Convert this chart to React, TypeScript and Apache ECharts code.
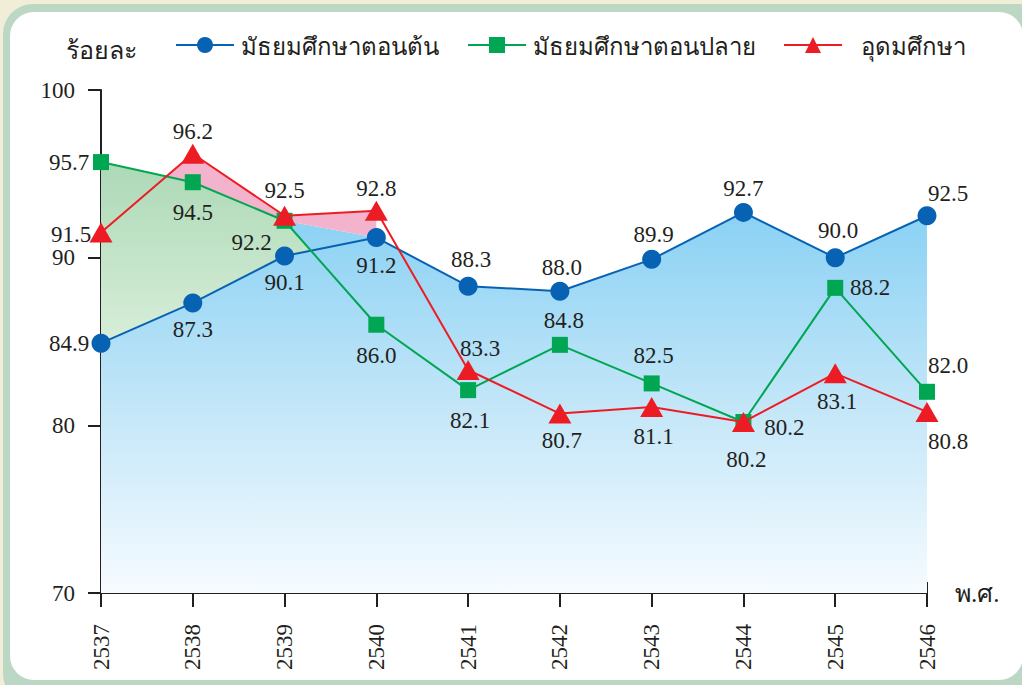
import React, { useEffect, useRef } from "react";
import * as echarts from "echarts";

// ---- data ----
const years = [2537, 2538, 2539, 2540, 2541, 2542, 2543, 2544, 2545, 2546];
const lowerSecondary = [84.9, 87.3, 90.1, 91.2, 88.3, 88.0, 89.9, 92.7, 90.0, 92.5];
const upperSecondary = [95.7, 94.5, 92.2, 86.0, 82.1, 84.8, 82.5, 80.2, 88.2, 82.0];
const higherEducation = [91.5, 96.2, 92.5, 92.8, 83.3, 80.7, 81.1, 80.2, 83.1, 80.8];
const seriesNames = ["มัธยมศึกษาตอนต้น", "มัธยมศึกษาตอนปลาย", "อุดมศึกษา"];
const yMin = 70;
const yMax = 100;
const yStep = 10;
const yAxisTitle = "ร้อยละ";
const xAxisTitle = "พ.ศ.";

// ---- label placement (pixel offsets from each marker) ----
const lowerOffsets = [[-32, 0], [0, 27], [0, 27], [0, 28], [3, -27], [2, -24], [2, -25], [0, -24], [3, -27], [21, -22]];
const upperOffsets = [[-32, 0], [0, 30], [-33, 22], [0, 31], [2, 30], [4, -24], [2, -28], [3, 38], [35, 0], [21, -26]];
const higherOffsets = [[-30, 2], [0, -22], [0, -25], [0, -22], [12, -22], [2, 27], [2, 30], [41, 6], [2, 28], [21, 30]];

const INK = "#231f20";
const BLUE = "#0862b3";
const GREEN = "#00a651";
const RED = "#ed1c24";
const SERIF = "Liberation Serif";
const SANS = "Noto Sans";

function crossing(a: number[], b: number[], i: number): [number, number] {
  const d1 = a[i] - b[i];
  const d2 = a[i + 1] - b[i + 1];
  const t = d1 / (d1 - d2);
  return [years[i] + t * (years[i + 1] - years[i]), a[i] + t * (a[i + 1] - a[i])];
}

function lineSeries(name: string, values: number[], offsets: number[][], color: string, symbol: string, symbolSize: any, z: number) {
  return {
    type: "line",
    name,
    z,
    symbol,
    symbolSize,
    lineStyle: { color, width: 2 },
    itemStyle: { color },
    data: values.map((v, i) => ({
      value: [years[i], v],
      label: { offset: offsets[i] },
    })),
    label: {
      show: true,
      position: "inside",
      formatter: (p: any) => Number(p.value[1]).toFixed(1),
      fontSize: 23,
      fontFamily: SERIF,
      color: INK,
      textBorderWidth: 0,
    },
  };
}

export default function App() {
  const ref = useRef<HTMLDivElement>(null);
  useEffect(() => {
    if (!ref.current) return;
    const chart = echarts.init(ref.current, null, { renderer: "svg" });

    const areaSeries = {
      type: "custom",
      z: 1,
      silent: true,
      data: [[years[0], yMin]],
      renderItem: (_params: any, api: any) => {
        const c = (x: number, y: number) => api.coord([x, y]);
        const bluePts: number[][] = [];
        for (let i = 0; i <= 2; i++) bluePts.push(c(years[i], lowerSecondary[i]));
        bluePts.push(c(years[2], upperSecondary[2]));
        for (let i = 3; i < years.length; i++) bluePts.push(c(years[i], lowerSecondary[i]));
        bluePts.push(c(years[years.length - 1], yMin));
        bluePts.push(c(years[0], yMin));
        const gx = crossing(upperSecondary, lowerSecondary, 2);
        const greenPts: number[][] = [];
        for (let i = 0; i <= 2; i++) greenPts.push(c(years[i], upperSecondary[i]));
        greenPts.push(c(gx[0], gx[1]));
        for (let i = 2; i >= 0; i--) greenPts.push(c(years[i], lowerSecondary[i]));
        const px = crossing(higherEducation, upperSecondary, 0);
        const pinkPts: number[][] = [c(px[0], px[1])];
        for (let i = 1; i <= 3; i++) pinkPts.push(c(years[i], higherEducation[i]));
        pinkPts.push(c(years[3], lowerSecondary[3]));
        pinkPts.push(c(years[2], upperSecondary[2]));
        pinkPts.push(c(years[1], upperSecondary[1]));
        return {
          type: "group",
          children: [
            {
              type: "polygon",
              shape: { points: bluePts },
              style: {
                fill: new echarts.graphic.LinearGradient(0, 0, 0, 1, [
                  { offset: 0, color: "#8ad1f4" },
                  { offset: 0.5, color: "#c2e6f8" },
                  { offset: 1, color: "#f6fbff" },
                ]),
              },
            },
            {
              type: "polygon",
              shape: { points: greenPts },
              style: {
                fill: new echarts.graphic.LinearGradient(0, 0, 0, 1, [
                  { offset: 0, color: "#acd9b6" },
                  { offset: 1, color: "#d8eed9" },
                ]),
              },
            },
            {
              type: "polygon",
              shape: { points: pinkPts },
              style: { fill: "#f4b3cd" },
            },
          ],
        };
      },
    };

    const legendBase = {
      top: 28,
      itemWidth: 58,
      itemHeight: 20,
      textStyle: { fontSize: 24, fontFamily: SANS, color: INK },
    };

    const option: any = {
      animation: false,
      textStyle: { fontFamily: SERIF },
      grid: { left: 101, right: 95, top: 90, bottom: 92, containLabel: false },
      legend: [
        { ...legendBase, left: 170, data: [seriesNames[0]], textStyle: { ...legendBase.textStyle, padding: [0, 0, 0, 2] } },
        { ...legendBase, left: 462, data: [seriesNames[1]], textStyle: { ...legendBase.textStyle, padding: [0, 0, 0, 2] } },
        { ...legendBase, left: 778, data: [seriesNames[2]], textStyle: { ...legendBase.textStyle, padding: [0, 0, 0, 14] } },
      ],
      xAxis: [
        {
          type: "value",
          min: years[0],
          max: years[years.length - 1],
          interval: 1,
          position: "bottom",
          axisLine: { show: true, lineStyle: { color: INK, width: 2 } },
          axisTick: { show: true, inside: true, length: 11, lineStyle: { color: INK, width: 2 } },
          axisLabel: {
            rotate: 90,
            margin: 31,
            fontSize: 23,
            fontFamily: SERIF,
            color: INK,
            formatter: (v: number) => String(v),
          },
          splitLine: { show: false },
          name: xAxisTitle,
          nameLocation: "end",
          nameGap: 28,
          nameTextStyle: { fontSize: 25, fontFamily: SERIF, color: INK, align: "left", verticalAlign: "middle", padding: [16, 0, 0, 0] },
        },
        {
          type: "value",
          min: years[0],
          max: years[years.length - 1],
          interval: 1,
          position: "bottom",
          axisLine: { show: true, lineStyle: { color: INK, width: 2 } },
          axisTick: { show: true, inside: false, length: 14, lineStyle: { color: INK, width: 2 } },
          axisLabel: { show: false },
          splitLine: { show: false },
        },
      ],
      yAxis: {
        type: "value",
        min: yMin,
        max: yMax,
        interval: yStep,
        axisLine: { show: true, lineStyle: { color: INK, width: 2 } },
        axisTick: { show: true, inside: false, length: 13, lineStyle: { color: INK, width: 2 } },
        axisLabel: { margin: 26, fontSize: 23, fontFamily: SERIF, color: INK },
        splitLine: { show: false },
        name: yAxisTitle,
        nameLocation: "end",
        nameGap: 40,
        nameTextStyle: { fontSize: 25, fontFamily: SERIF, color: INK, align: "center", verticalAlign: "middle" },
      },
      series: [
        areaSeries,
        lineSeries(seriesNames[0], lowerSecondary, lowerOffsets, BLUE, "circle", 19, 3),
        lineSeries(seriesNames[1], upperSecondary, upperOffsets, GREEN, "rect", 16, 4),
        lineSeries(seriesNames[2], higherEducation, higherOffsets, RED, "triangle", [23, 20], 5),
      ],
    };
    chart.setOption(option);
    return () => chart.dispose();
  }, []);

  return (
    <div style={{ position: "fixed", left: 0, top: 0, width: 1022, height: 685, overflow: "hidden", background: "#f1eed8" }}>
      <div style={{ position: "absolute", left: 3, top: 4, width: 1045, height: 700, borderRadius: 30, background: "#bcd8c4" }} />
      <div style={{ position: "absolute", left: 10, top: 12, width: 1013, height: 668, borderRadius: 24, background: "#ffffff" }} />
      <div ref={ref} style={{ position: "absolute", left: 0, top: 0, width: 1022, height: 685 }} />
    </div>
  );
}
